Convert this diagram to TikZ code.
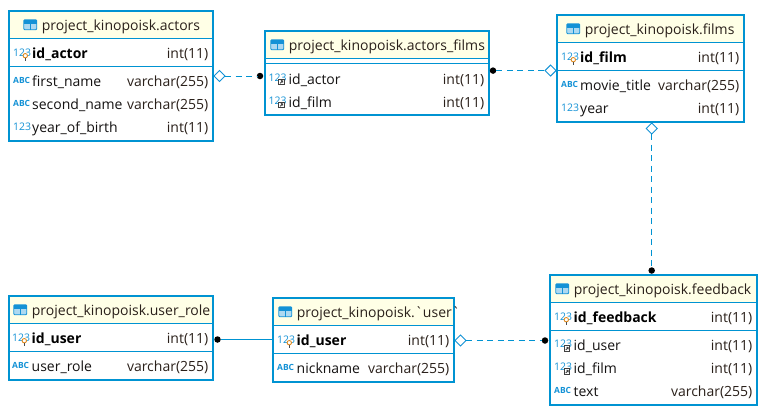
\documentclass[tikz,border=0pt]{standalone}
\usepackage{fontspec}
\setmainfont{Open Sans}[Ligatures=TeXOff]
\usetikzlibrary{shapes.geometric,calc}
\definecolor{erblue}{HTML}{0093D2}
\definecolor{erhead}{HTML}{FFFFE6}
\definecolor{erink}{HTML}{141212}
\definecolor{ertype}{HTML}{2A201A}
\definecolor{erkey}{HTML}{E08A1E}
\definecolor{ericon}{HTML}{1492D6}
\tikzset{
 x=1bp,y=-1bp,
 tablebox/.style={draw=erblue,line width=2bp,inner sep=0pt,outer sep=0pt,anchor=north west,fill=none},
 headfill/.style={fill=erhead,draw=none},
 divider/.style={draw=erblue,line width=1bp},
 titletext/.style={anchor=base west,inner sep=0pt,text=ertype,font=\fontsize{14.05}{16}\selectfont},
 nametext/.style={anchor=base west,inner sep=0pt,text=erink,font=\fontsize{14.05}{16}\selectfont},
 pktext/.style={anchor=base west,inner sep=0pt,text=black,font=\fontsize{14.05}{16}\selectfont\bfseries},
 typetext/.style={anchor=base east,inner sep=0pt,text=ertype,font=\fontsize{14.05}{16}\selectfont},
 numicon/.style={anchor=base west,inner sep=0pt,text=ericon,font=\fontsize{10.5}{12}\selectfont},
 abcicon/.style={anchor=base west,inner sep=0pt,text=ericon,font=\fontsize{8.5}{10}\selectfont\bfseries},
 hollow/.style={diamond,draw=ericon,fill=white,line width=0.9bp,minimum width=11bp,minimum height=11bp,inner sep=0pt,outer sep=0pt},
 blackdot/.style={circle,fill=black,draw=none,minimum size=6.5bp,inner sep=0pt,outer sep=0pt},
 dashlink/.style={draw=erblue,line width=1bp,dash pattern=on 6bp off 4.5bp},
 solidlink/.style={draw=erblue,line width=1bp},
}
% name, x1, y1, x2, y2, header bottom, title x, title baseline, title
\newcommand{\ertable}[9]{%
 \path[headfill] (#2,#3) rectangle (#4,#6);
 \draw[divider] (#2,#6) -- (#4,#6);
 \node[tablebox,minimum width={(#4-#2)*1bp},minimum height={(#5-#3)*1bp}] (#1) at (#2,#3) {};
 \node[titletext] (#1title) at (#7,#8) {#9};
 \fill[ericon!35] (#7-18,#8-11) rectangle (#7-5,#8-1);
 \fill[ericon] (#7-18,#8-11) rectangle (#7-5,#8-6.5);
 \draw[ericon,line width=0.9bp,rounded corners=1bp] (#7-18,#8-11) rectangle (#7-5,#8-1);
 \draw[ericon,line width=0.8bp] (#7-11.5,#8-6.5) -- (#7-11.5,#8-1);
}
\newcommand{\keyglyph}[2]{%
 \draw[erkey,line width=0.9bp,fill=white] (#1,#2) circle (2.2bp);
 \draw[black!70,line width=1bp] (#1,#2+2.6) -- (#1,#2+5);
}
\newcommand{\fkglyph}[2]{%
 \draw[black!75,line width=0.9bp,fill=white] (#1-2.8,#2-2.8) rectangle (#1+2.8,#2+2.8);
 \draw[black!75,line width=0.8bp] (#1-1.3,#2+1.3) -- (#1+1.3,#2-1.3) (#1-0.6,#2-1.4) -- (#1+1.3,#2-1.3) -- (#1+1.3,#2+0.6);
}
% prefix, icon x, name x, type right x, baseline, name, type
\newcommand{\pkrow}[7]{%
 \node[numicon] (#1i) at (#2,#5-2.5) {123};
 \keyglyph{#2+12.3}{#5-3}
 \node[pktext] (#1n) at (#3,#5) {#6};
 \node[typetext] (#1t) at (#4,#5) {#7};
}
\newcommand{\fkrow}[7]{%
 \node[numicon] (#1i) at (#2,#5-3) {123};
 \fkglyph{#2+13}{#5-2}
 \node[nametext] (#1n) at (#3,#5) {#6};
 \node[typetext] (#1t) at (#4,#5) {#7};
}
\newcommand{\numrow}[7]{%
 \node[numicon] (#1i) at (#2,#5-2.5) {123};
 \node[nametext] (#1n) at (#3,#5) {#6};
 \node[typetext] (#1t) at (#4,#5) {#7};
}
\newcommand{\abcrow}[7]{%
 \node[abcicon] (#1i) at (#2,#5-3) {ABC};
 \node[nametext] (#1n) at (#3,#5) {#6};
 \node[typetext] (#1t) at (#4,#5) {#7};
}
\begin{document}
\begin{tikzpicture}
\path[fill=white] (0,0) rectangle (769,418);
\useasboundingbox (0,0) rectangle (769,418);

% actors
\ertable{actors}{9}{11}{213}{141}{38.5}{41.7}{30.7}{project\_kinopoisk.actors}
\draw[divider] (9,66.5) -- (213,66.5);
\pkrow{aid}{13}{32}{208.5}{58.7}{id\_actor}{int(11)}
\abcrow{afn}{13}{32}{208.5}{86.7}{first\_name}{varchar(255)}
\abcrow{asn}{13}{32}{208.5}{109.7}{second\_name}{varchar(255)}
\numrow{ayb}{13}{32}{208.5}{132.7}{year\_of\_birth}{int(11)}

% actors_films
\ertable{af}{265}{31}{489}{115}{58.5}{288.7}{50.7}{project\_kinopoisk.actors\_films}
\draw[divider] (265,63.5) -- (489,63.5);
\fkrow{afa}{268.5}{288.5}{484.5}{84}{id\_actor}{int(11)}
\fkrow{aff}{268.5}{288.5}{484.5}{107}{id\_film}{int(11)}

% films
\ertable{films}{557}{15}{744}{122}{42.5}{584.7}{34.7}{project\_kinopoisk.films}
\draw[divider] (557,70.5) -- (744,70.5);
\pkrow{fid}{561}{580}{739.5}{62.7}{id\_film}{int(11)}
\abcrow{fmt}{561}{580}{739.5}{90.7}{movie\_title}{varchar(255)}
\numrow{fyr}{561}{580}{739.5}{113.7}{year}{int(11)}

% feedback
\ertable{fb}{550}{275}{757}{405}{302.5}{573.7}{294.7}{project\_kinopoisk.feedback}
\draw[divider] (550,330.5) -- (757,330.5);
\pkrow{fbid}{554}{573.5}{752.5}{322.7}{id\_feedback}{int(11)}
\fkrow{fbu}{554}{573.5}{752.5}{350.7}{id\_user}{int(11)}
\fkrow{fbf}{554}{573.5}{752.5}{373.7}{id\_film}{int(11)}
\abcrow{fbt}{554}{573.5}{752.5}{396.7}{text}{varchar(255)}

% user_role
\ertable{ur}{8.5}{296}{213}{380}{323.5}{31.7}{315.7}{project\_kinopoisk.user\_role}
\draw[divider] (8.5,351.5) -- (213,351.5);
\pkrow{urid}{12}{31.5}{208.5}{343.7}{id\_user}{int(11)}
\abcrow{urr}{12}{31.5}{208.5}{371.7}{user\_role}{varchar(255)}

% user
\ertable{us}{273}{298}{454}{382}{325.5}{296.7}{317.7}{project\_kinopoisk.\symbol{96}user\symbol{96}}
\draw[divider] (273,353.5) -- (454,353.5);
\pkrow{usid}{277}{296.5}{449.5}{345.7}{id\_user}{int(11)}
\abcrow{usn}{277}{296.5}{449.5}{373.7}{nickname}{varchar(255)}

% connector ends
\node[hollow] (d1) at (219.5,76) {};
\node[blackdot] (k1) at (260,76) {};
\node[blackdot] (k2) at (493,70.6) {};
\node[hollow] (d2) at (550.5,70.6) {};
\node[hollow] (d3) at (651.7,128.5) {};
\node[blackdot] (k3) at (651.7,270.5) {};
\node[blackdot] (k4) at (217.5,339.5) {};
\node[hollow] (d5) at (460.5,340.5) {};
\node[blackdot] (k5) at (545,340.5) {};

\draw[dashlink] (d1) -- (k1);
\draw[dashlink] (k2) -- (d2);
\draw[dashlink] (d3) -- (k3);
\draw[solidlink] (k4) -- (us.west |- k4);
\draw[dashlink] (d5) -- (k5);
\end{tikzpicture}
\end{document}
